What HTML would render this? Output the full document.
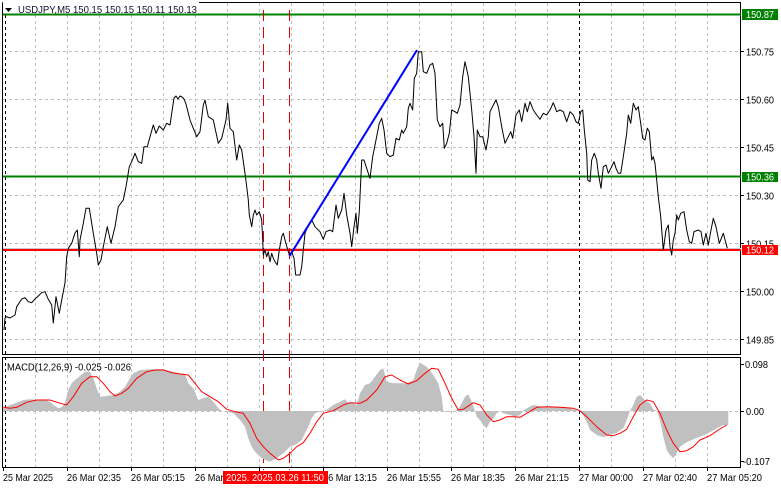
<!DOCTYPE html>
<html><head><meta charset="utf-8"><style>
html,body{margin:0;padding:0;background:#fff;}
svg{display:block;}
text{font-family:"Liberation Sans",Arial,sans-serif;}
</style></head><body>
<svg width="781" height="489" viewBox="0 0 781 489" xmlns="http://www.w3.org/2000/svg">
<rect width="781" height="489" fill="#fff"/>
<!-- vertical grid main -->
<g stroke="#c0c0c0" stroke-width="1" stroke-dasharray="3,3" fill="none">
<path d="M35.5 3V355M67.5 3V355M99.5 3V355M131.5 3V355M163.5 3V355M195.5 3V355M227.5 3V355M259.5 3V355M291.5 3V355M323.5 3V355M355.5 3V355M387.5 3V355M419.5 3V355M451.5 3V355M483.5 3V355M515.5 3V355M547.5 3V355M611.5 3V355M643.5 3V355M675.5 3V355M707.5 3V355"/>
<path d="M3 51.5H741M3 99.5H741M3 147.5H741M3 195.5H741M3 243.5H741M3 291.5H741M3 339.5H741"/>
<path d="M35.5 357V467M67.5 357V467M99.5 357V467M131.5 357V467M163.5 357V467M195.5 357V467M227.5 357V467M259.5 357V467M291.5 357V467M323.5 357V467M355.5 357V467M387.5 357V467M419.5 357V467M451.5 357V467M483.5 357V467M515.5 357V467M547.5 357V467M611.5 357V467M643.5 357V467M675.5 357V467M707.5 357V467"/>
<path d="M3 411.5H744"/>
</g>
<!-- black day separators -->
<g stroke="#000" stroke-width="1" stroke-dasharray="3,3">
<path d="M5.5 3V355M579.5 3V355M5.5 357V467M579.5 357V467"/>
</g>
<!-- frames -->
<g stroke="#000" stroke-width="1" fill="none">
<path d="M2.5 2.5H740.5V355M2.5 2.5V355M2.5 354.5H740.5"/>
<path d="M2.5 357.5H740.5V467.5H2.5Z"/>
</g>
<!-- title background -->
<rect x="3" y="0" width="196" height="13" fill="#fff"/>
<!-- horizontal level lines -->
<line x1="3" y1="248.5" x2="741" y2="248.5" stroke="#c8c8c8" stroke-width="1"/>
<line x1="3" y1="14.5" x2="741" y2="14.5" stroke="#008000" stroke-width="2"/>
<line x1="3" y1="176.5" x2="741" y2="176.5" stroke="#008000" stroke-width="2"/>
<line x1="3" y1="250" x2="741" y2="250" stroke="#ff0000" stroke-width="2"/>
<!-- red vertical dashed -->
<g stroke="#e00000" stroke-width="1" stroke-dasharray="11,6">
<path d="M263.5 10V470M289.5 10V470"/>
</g>
<!-- price line -->
<polyline fill="none" stroke="#000" stroke-width="1" stroke-linejoin="round" points="4,330 5,318 6.7,316.7 10,318 15,315 16.7,306.7 21.7,299 25,297.7 28.3,301.7 31.7,302.7 35,299 38.3,296 41.7,292.7 45,291.7 48.3,299.3 51.7,305 53.3,323 56,296.7 59.3,313.3 61.7,300 65,283 66.7,256.7 68.3,248.3 71.7,243.3 75,233 77.3,230 79.3,256.7 80,240 83.3,223.3 86,208.3 89.3,208.3 93.3,233.3 96.7,253.3 98.3,265 101,260 103.3,246.7 107.3,226.7 111,243.3 115,226.7 118.3,206.7 123.3,200 126,186.7 129.3,166.7 131.7,161.7 135,153.3 138.3,161.7 141.7,163.3 144,146.7 147.3,146.7 150,136.7 153.3,125 156,133.3 159.3,126 163.3,130 166.7,123.3 170,125 172.7,106.7 174,98 176,96 178,99 180,96 182,97 184,99 186,104 188,112 190,120 193.3,128.3 196.7,136.7 200,131.7 203.3,105 205,100 208.3,116.7 213.3,120 218.3,143.3 221.7,138.3 226,120 227.7,103 230,128.3 233.3,131.7 236.7,160 239.3,145 241.7,150 245,173.3 246.7,186.7 248.3,200 249.3,215 251.7,226.7 253.3,215 255,210 256.7,215 259.3,211.7 261.7,220 262.7,240 263.3,255 265,250 266.7,256.7 268.3,251.7 270,261.7 271.7,253.3 273.3,258.3 275,261.7 277.3,265 279.3,250 281.7,236.7 283.3,233.3 285,240 287.3,248.3 289.3,255 291.7,251.7 294,258.3 295.7,275 300,275 301.7,266.7 303.3,250 305,233.3 308.3,225 311.7,220 315,226.7 320,231.7 323.3,239.3 326,231.7 330,230 332.7,231.7 336,205 338.3,218.3 341.7,210 344,193.3 346.7,215 350,233.3 351.7,246.7 354,226.7 356,213.3 357.3,233.3 359.3,211.7 361.7,160 364,160 368.3,173.3 370,178.3 372.7,156.7 376,140 379.3,123.3 381.7,118.3 384,130 386.7,153.3 390,156.7 393.3,155 396,138.3 399.3,140 401.7,130 403.3,133.3 406.7,126.7 408.3,108.3 410,103.3 412.7,110 414.3,78.3 416.7,73.3 418.3,51.7 421.7,51.7 423.3,71.7 426.7,73.3 430,65 432.7,63.3 435,73.3 437.3,120 440,126.7 442.7,123.3 444.3,148.3 446.7,143.3 449.3,133.3 451.7,110 455,111.7 457.3,113.3 460,105 462.7,76.7 465,61.7 468.3,76.7 471.7,110 474,136.7 476,173.3 477.3,130 480,136.7 482.7,136.7 486,150 488.3,136.7 490,111.7 493.3,105 496,100 498.3,106.7 501.7,126.7 505,143.3 508.3,136.7 510.7,131.7 512.7,138.3 516,115 519.3,110 521.7,121.7 525,103.3 527.3,111.7 530,101.7 533.3,110 536.7,115 540,119.3 543.3,113.3 546.7,115 550,110 553.3,102.7 556.7,111.7 560,110 563.3,111.7 566.7,121.7 570,111.7 573.3,115 576,121.7 578.3,123.3 580.7,111.7 582.7,110 584.3,130 586.7,153.3 587.7,180 590,181.7 591.7,160 594.3,153.3 596.7,160 598.3,173.3 601,188.3 603.3,166.7 606,165 608.3,173.3 611.7,166.7 614,161.7 616,168.3 618.3,173.3 620.7,173.3 623.3,156.7 626.7,133.3 628.3,115 630.7,123.3 633.3,103.3 636,110 638.3,106.7 640.7,123.3 642.7,138.3 645,140 647.3,128.3 649.3,131.7 651.7,160 653.3,156.7 655,163.3 656.7,180 658.3,196.7 660.7,216.7 663.3,250 666,230 668.3,225 670,246.7 671.7,255 673.3,240 675,233.3 676.7,215 678.3,220 680.7,213.3 684,211.7 686.7,230 689.3,241.7 691.7,243.3 694,231.7 698.3,230 701,231.7 703.3,245 706,233.3 708.3,245 710.7,231.7 713.3,218.3 716,226.7 719.3,243.3 723.3,233.3 727.3,248.3"/>
<!-- blue trend line -->
<line x1="289.5" y1="256" x2="417" y2="50" stroke="#0000ff" stroke-width="2"/>
<!-- title -->
<polygon points="5,8 12,8 8.5,12" fill="#000"/>
<text x="18" y="13" font-size="10.5" fill="#101030" textLength="179" lengthAdjust="spacingAndGlyphs">USDJPY,M5  150.15 150.15 150.11 150.13</text>
<!-- MACD histogram -->
<polygon fill="#c0c0c0" points="3,411 3.3,408 10,405 16.7,402.7 23.3,400 30,399.3 36.7,400 43.3,399.3 50,401.7 53.3,405 58.3,408.3 61.7,407.3 65,403.3 68.3,390 71.7,383.3 75,380 80,376 85,371.7 90,371.7 93.3,378.3 96.7,388.3 100,396.7 106.7,396 113.3,395 120,391.7 125,386.7 130,378.3 133.3,373.3 140,370 150,369.3 163.3,369.3 173.3,371.7 180,373.3 185,374 188.3,383.3 193.3,388.3 198.3,400 203.3,398.3 208.3,396.7 213.3,401.7 218.3,408.3 221.7,411 226.7,411.7 233.3,413.3 240,420 245,426.7 248.3,438.3 251.7,446.7 255,451.7 260,456.7 265,460 270,461.7 276.7,458.3 283.3,453.3 290,446.7 296.7,444 301.7,440 305,433.3 308.3,426.7 311.7,418.3 315,413.3 320,411.7 323,411 326.7,410 333.3,405 340,401.7 345,399.3 348.3,403.3 353.3,402.7 356.7,405 360,393.3 365,385 370,383.3 375,376.7 380,370 383.3,368.3 386.7,381.7 393.3,383.3 406.7,383.3 413.3,380 416.7,370 420,362.7 426.7,366.7 433.3,375 438.3,383.3 441.7,396.7 443.3,411 445,411.7 451.7,411.7 456,411 460,406.7 465,396.7 468.3,394.3 471.7,401.7 475,411 476.7,416.7 480,420 483.3,425 486.7,428.3 490,421.7 493.3,418.3 496.7,413.3 500,411 503.3,413.3 510,415 515,416.7 520,415 523,411 526.7,408.3 533.3,405 543.3,406.7 553.3,406.7 566.7,407.3 573.3,409.3 579.3,411 583.3,415 586.7,421.7 590,430 596.7,435 603.3,437.3 610,435 616.7,432.7 623.3,428.3 626.7,420 630,411 633.3,405 636.7,396.7 640,395 645,400 650,403.3 653.3,409.3 656.7,411 660,420 663.3,436.7 666.7,450 670,455 673.3,458.3 676.7,453.3 680,446.7 685,443.3 691.7,440 700,436.7 708.3,433.3 716.7,428.3 723.3,425 728.3,425 728.3,411"/>
<!-- MACD signal -->
<polyline fill="none" stroke="#ff0000" stroke-width="1" stroke-linejoin="round" points="3.3,407.3 10,408.3 16.7,407.3 26.7,402.3 36.7,400 50,400 58.3,402.7 66.7,405 73.3,396.7 81.7,383.3 90,376.7 96.7,376.7 103.3,383.3 110,391.7 115,396 121.7,393.3 128.3,388.3 136.7,378.3 146.7,371.7 155,370 163.3,370 171.7,372.7 180,374 188.3,375 195,383.3 201.7,391.7 210,396.7 218.3,401.7 226.7,409.3 235,411.7 243.3,413.3 250,423.3 256.7,438.3 263.3,446.7 270,453.3 278.3,460 283.3,458.3 290,453.3 296.7,446.7 303.3,442.7 310,433.3 316.7,421.7 323.3,413.3 333.3,410.7 343.3,405 350,402.7 360,403.3 366.7,400 376.7,390 385,376.7 391.7,375 400,380 408.3,384 416.7,380.7 425,373.3 431.7,368.3 438.3,369.3 445,383.3 451.7,398.3 458.3,410 463.3,409.3 473.3,402.7 480,405 486.7,415 493.3,421.7 500,420 506.7,416.7 513.3,416.7 520,417.3 526.7,413.3 536.7,407.3 546.7,406.7 560,407.3 573.3,408.3 580,410.7 586.7,416.7 596.7,426.7 606.7,435 613.3,435.7 620,433.3 626.7,429.3 633.3,416.7 640,405 646.7,400 653.3,401.7 660,413.3 666.7,430 673.3,443.3 680,451.7 686.7,450.7 693.3,446.7 700,440 710,435.7 718.3,430 726.7,425"/>
<text x="7" y="370.5" font-size="10.5" fill="#000" textLength="124" lengthAdjust="spacingAndGlyphs">MACD(12,26,9) -0.025 -0.026</text>
<!-- right axis ticks -->
<g stroke="#000" stroke-width="1">
<path d="M741 51.5H744M741 99.5H744M741 147.5H744M741 195.5H744M741 243.5H744M741 291.5H744M741 339.5H744M741 364.5H744M741 411.5H744M741 461.5H744"/>
<path d="M3.5 467V471M67.5 467V471M131.5 467V471M195.5 467V471M259.5 467V471M323.5 467V471M387.5 467V471M451.5 467V471M515.5 467V471M579.5 467V471M643.5 467V471M707.5 467V471"/>
</g>
<!-- right axis labels -->
<g font-size="10" fill="#000">
<text x="746" y="55.5" textLength="28" lengthAdjust="spacingAndGlyphs">150.75</text>
<text x="746" y="103.5" textLength="28" lengthAdjust="spacingAndGlyphs">150.60</text>
<text x="746" y="151.5" textLength="28" lengthAdjust="spacingAndGlyphs">150.45</text>
<text x="746" y="199.5" textLength="28" lengthAdjust="spacingAndGlyphs">150.30</text>
<text x="746" y="247.5" textLength="28" lengthAdjust="spacingAndGlyphs">150.15</text>
<text x="746" y="295.5" textLength="28" lengthAdjust="spacingAndGlyphs">150.00</text>
<text x="746" y="343.5" textLength="28" lengthAdjust="spacingAndGlyphs">149.85</text>
<text x="745" y="368" textLength="23" lengthAdjust="spacingAndGlyphs">0.098</text>
<text x="746" y="415" textLength="18" lengthAdjust="spacingAndGlyphs">0.00</text>
<text x="743" y="465" textLength="27" lengthAdjust="spacingAndGlyphs">-0.107</text>
</g>
<rect x="742" y="9" width="36" height="11" fill="#008000"/>
<text x="746" y="18" font-size="10" fill="#fff" textLength="28" lengthAdjust="spacingAndGlyphs">150.87</text>
<rect x="742" y="172" width="36" height="10" fill="#008000"/>
<text x="746" y="180.5" font-size="10" fill="#fff" textLength="28" lengthAdjust="spacingAndGlyphs">150.36</text>
<rect x="742" y="245" width="36" height="10" fill="#ff0000"/>
<text x="746" y="253.5" font-size="10" fill="#fff" textLength="28" lengthAdjust="spacingAndGlyphs">150.12</text>
<!-- time labels -->
<g font-size="10.5" fill="#000">
<text x="3" y="481" textLength="50" lengthAdjust="spacingAndGlyphs">25 Mar 2025</text>
<text x="67" y="481" textLength="54" lengthAdjust="spacingAndGlyphs">26 Mar 02:35</text>
<text x="131" y="481" textLength="54" lengthAdjust="spacingAndGlyphs">26 Mar 05:15</text>
<text x="195" y="481" textLength="54" lengthAdjust="spacingAndGlyphs">26 Mar 07:55</text>
<text x="259" y="481" textLength="54" lengthAdjust="spacingAndGlyphs">26 Mar 10:35</text>
<text x="323" y="481" textLength="54" lengthAdjust="spacingAndGlyphs">26 Mar 13:15</text>
<text x="387" y="481" textLength="54" lengthAdjust="spacingAndGlyphs">26 Mar 15:55</text>
<text x="451" y="481" textLength="54" lengthAdjust="spacingAndGlyphs">26 Mar 18:35</text>
<text x="515" y="481" textLength="54" lengthAdjust="spacingAndGlyphs">26 Mar 21:15</text>
<text x="579" y="481" textLength="54" lengthAdjust="spacingAndGlyphs">27 Mar 00:00</text>
<text x="643" y="481" textLength="54" lengthAdjust="spacingAndGlyphs">27 Mar 02:40</text>
<text x="707" y="481" textLength="55" lengthAdjust="spacingAndGlyphs">27 Mar 05:20</text>
</g>
<rect x="223" y="471" width="105" height="13" fill="#ff0000"/>
<text x="226" y="481" font-size="10.5" fill="#fff" textLength="98" lengthAdjust="spacingAndGlyphs">2025. 2025.03.26 11:50</text>
</svg>
</body></html>
